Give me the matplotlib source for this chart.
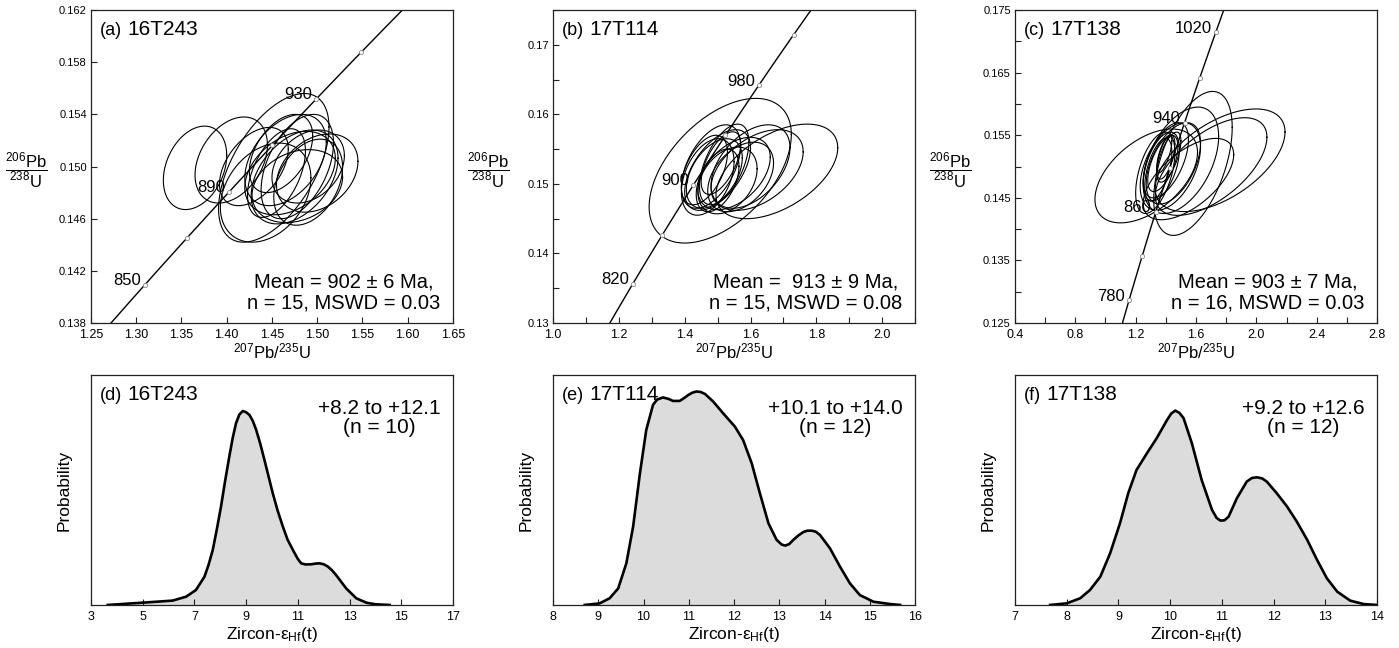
import numpy as np
import matplotlib
matplotlib.use("Agg")
import matplotlib.pyplot as plt
from matplotlib.ticker import MultipleLocator, FixedLocator, FormatStrFormatter, NullLocator

plt.rcParams['font.family'] = ['Liberation Sans', 'DejaVu Sans']
plt.rcParams['mathtext.fontset'] = 'custom'
plt.rcParams['mathtext.rm'] = 'Liberation Sans'
plt.rcParams['mathtext.it'] = 'Liberation Sans:italic'
plt.rcParams['mathtext.bf'] = 'Liberation Sans:bold'

# decay constants (per year)
L238 = 1.55125e-10
L235 = 9.8485e-10

samples = ["16T243", "17T114", "17T138"]

# --- U-Pb analyses: ellipse centre, half-widths (x, y) and error correlation ---
x_16T243 = [1.365, 1.405, 1.452, 1.443, 1.465, 1.470, 1.478, 1.500, 1.475, 1.460, 1.490, 1.430, 1.478, 1.455, 1.490]
y_16T243 = [0.1499, 0.1505, 0.1499, 0.1480, 0.1505, 0.1495, 0.1500, 0.1495, 0.1492, 0.1510, 0.1500, 0.1500, 0.1485, 0.1495, 0.1488]
wx_16T243 = [0.035, 0.040, 0.061, 0.050, 0.045, 0.050, 0.040, 0.045, 0.048, 0.035, 0.040, 0.038, 0.050, 0.032, 0.038]
wy_16T243 = [0.0032, 0.0033, 0.0057, 0.0038, 0.0035, 0.0032, 0.0040, 0.0030, 0.0036, 0.0030, 0.0028, 0.0030, 0.0028, 0.0034, 0.0033]
rho_16T243 = [0.3, 0.35, 0.55, 0.3, 0.4, 0.35, 0.45, 0.3, 0.4, 0.45, 0.3, 0.45, 0.25, 0.5, 0.35]

x_17T114 = [1.508, 1.680, 1.600, 1.480, 1.500, 1.490, 1.520, 1.470, 1.550, 1.510, 1.530, 1.460, 1.570, 1.500, 1.620]
y_17T114 = [0.1519, 0.1518, 0.1525, 0.1525, 0.1520, 0.1515, 0.1528, 0.1510, 0.1515, 0.1530, 0.1505, 0.1520, 0.1510, 0.1505, 0.1520]
wx_17T114 = [0.216, 0.185, 0.120, 0.090, 0.100, 0.085, 0.075, 0.080, 0.110, 0.060, 0.090, 0.070, 0.100, 0.065, 0.140]
wy_17T114 = [0.0104, 0.0068, 0.0060, 0.0060, 0.0058, 0.0050, 0.0058, 0.0055, 0.0052, 0.0045, 0.0048, 0.0050, 0.0050, 0.0045, 0.0058]
rho_17T114 = [0.5, 0.5, 0.45, 0.5, 0.55, 0.45, 0.55, 0.4, 0.45, 0.6, 0.35, 0.5, 0.4, 0.45, 0.45]

x_17T138 = [1.27, 1.76, 1.58, 1.70, 1.50, 1.40, 1.38, 1.42, 1.37, 1.45, 1.40, 1.35, 1.43, 1.39, 1.55, 1.33]
y_17T138 = [0.1485, 0.1510, 0.1505, 0.1500, 0.1510, 0.1510, 0.1505, 0.1515, 0.1500, 0.1505, 0.1515, 0.1495, 0.1500, 0.1520, 0.1480, 0.1490]
wx_17T138 = [0.34, 0.43, 0.26, 0.37, 0.25, 0.15, 0.10, 0.08, 0.12, 0.18, 0.06, 0.09, 0.20, 0.05, 0.30, 0.13]
wy_17T138 = [0.0075, 0.0082, 0.0115, 0.0078, 0.0085, 0.0060, 0.0045, 0.0040, 0.0055, 0.0065, 0.0035, 0.0050, 0.0070, 0.0030, 0.0065, 0.0065]
rho_17T138 = [0.5, 0.55, 0.5, 0.6, 0.45, 0.55, 0.6, 0.65, 0.5, 0.5, 0.6, 0.55, 0.45, 0.7, 0.6, 0.5]

# concordia age marks (Ma) and which of them carry a label
marks_16T243 = [850, 870, 890, 910, 930, 950, 970]
labels_16T243 = [850, 890, 930]
marks_17T114 = [780, 820, 860, 900, 940, 980, 1020]
labels_17T114 = [820, 900, 980]
marks_17T138 = [700, 780, 820, 860, 900, 940, 980, 1020]
labels_17T138 = [780, 860, 940, 1020]

mean_text = ["Mean = 902 \u00b1 6 Ma,\nn = 15, MSWD = 0.03",
             "Mean =  913 \u00b1 9 Ma,\nn = 15, MSWD = 0.08",
             "Mean = 903 \u00b1 7 Ma,\nn = 16, MSWD = 0.03"]

# --- zircon eHf(t) probability curves ---
hf_16T243_x = [3.65, 5.0, 6.16, 6.68, 7.06, 7.39, 7.55, 7.71, 7.87, 8.03, 8.19, 8.35, 8.48, 8.61, 8.74,
               8.87, 9.0, 9.13, 9.26, 9.39, 9.55, 9.71, 9.87, 10.03, 10.22, 10.42, 10.6, 10.81, 11.0, 11.13,
               11.3, 11.52, 11.7, 11.84, 12.0, 12.16, 12.32, 12.48, 12.87, 13.26, 13.65, 14.0, 14.55]
hf_16T243_y = [0.0, 0.010, 0.019, 0.036, 0.065, 0.123, 0.175, 0.239, 0.33, 0.428, 0.54, 0.645, 0.725, 0.79, 0.828,
               0.843, 0.838, 0.826, 0.80, 0.761, 0.70, 0.630, 0.558, 0.486, 0.41, 0.341, 0.285, 0.239, 0.200, 0.181,
               0.176, 0.177, 0.180, 0.181, 0.177, 0.167, 0.151, 0.130, 0.072, 0.029, 0.010, 0.003, 0.0]

hf_17T114_x = [8.70, 9.03, 9.25, 9.44, 9.62, 9.77, 9.92, 10.06, 10.21, 10.30, 10.43, 10.55, 10.65, 10.80, 10.90,
               10.99, 11.08, 11.17, 11.26, 11.36, 11.54, 11.76, 12.02, 12.20, 12.39, 12.57, 12.76, 12.94, 13.05,
               13.13, 13.22, 13.31, 13.42, 13.53, 13.62, 13.72, 13.81, 13.90, 14.12, 14.34, 14.56, 14.78, 15.08,
               15.45, 15.67]
hf_17T114_y = [0.0, 0.007, 0.029, 0.072, 0.181, 0.341, 0.572, 0.761, 0.870, 0.893, 0.902, 0.896, 0.887, 0.887, 0.900,
               0.913, 0.923, 0.928, 0.926, 0.917, 0.884, 0.833, 0.775, 0.717, 0.616, 0.486, 0.355, 0.283, 0.263,
               0.258, 0.265, 0.283, 0.302, 0.317, 0.323, 0.323, 0.318, 0.304, 0.246, 0.167, 0.094, 0.043, 0.014,
               0.004, 0.0]

hf_17T138_x = [7.68, 8.0, 8.26, 8.45, 8.65, 8.84, 9.03, 9.19, 9.35, 9.55, 9.74, 9.94, 10.02, 10.10, 10.18,
               10.26, 10.42, 10.61, 10.81, 10.90, 10.97, 11.05, 11.13, 11.29, 11.48, 11.58, 11.68, 11.78, 11.87,
               12.06, 12.26, 12.45, 12.65, 12.84, 13.03, 13.23, 13.48, 13.74, 14.0]
hf_17T138_y = [0.0, 0.007, 0.029, 0.065, 0.123, 0.225, 0.355, 0.486, 0.587, 0.659, 0.725, 0.804, 0.832, 0.845, 0.835,
               0.812, 0.703, 0.543, 0.413, 0.378, 0.367, 0.368, 0.384, 0.464, 0.536, 0.552, 0.555, 0.550, 0.536,
               0.486, 0.428, 0.362, 0.283, 0.196, 0.116, 0.058, 0.019, 0.004, 0.0]

hf_range = ["+8.2 to +12.1\n(n = 10)", "+10.1 to +14.0\n(n = 12)", "+9.2 to +12.6\n(n = 12)"]

upb = [
    (x_16T243, y_16T243, wx_16T243, wy_16T243, rho_16T243, marks_16T243, labels_16T243),
    (x_17T114, y_17T114, wx_17T114, wy_17T114, rho_17T114, marks_17T114, labels_17T114),
    (x_17T138, y_17T138, wx_17T138, wy_17T138, rho_17T138, marks_17T138, labels_17T138),
]
hf = [(hf_16T243_x, hf_16T243_y), (hf_17T114_x, hf_17T114_y), (hf_17T138_x, hf_17T138_y)]

# axis ranges and ticks
conc_xlim = [(1.25, 1.65), (1.0, 2.1), (0.4, 2.8)]
conc_ylim = [(0.138, 0.162), (0.13, 0.175), (0.125, 0.175)]
hf_xlim = [(3, 17), (8, 16), (7, 14)]
hf_xticks = [np.arange(3, 18, 2), np.arange(8, 17, 1), np.arange(7, 15, 1)]

fig = plt.figure(figsize=(13.99, 6.48), dpi=100)
lefts = [0.0650, 0.3953, 0.7255]
W = 0.2588
spine_c = "#222222"


def style_axes(ax):
    for s in ax.spines.values():
        s.set_linewidth(0.9)
        s.set_color(spine_c)
    ax.tick_params(which="both", direction="in", length=4, width=0.8, color=spine_c,
                   top=False, right=False)


def panel_label(ax, tag, name, x, y):
    t = ax.text(x, y, tag, transform=ax.transAxes, fontsize=13, ha="left", va="baseline")
    ax.annotate(name, xy=(1, 0), xycoords=t, xytext=(4, 0), textcoords="offset points",
                fontsize=15, ha="left", va="bottom")


t_ma = np.linspace(600, 1150, 600)
conc_x = np.exp(L235 * t_ma * 1e6) - 1
conc_y = np.exp(L238 * t_ma * 1e6) - 1
theta = np.linspace(0, 2 * np.pi, 240)

for i in range(3):
    ax = fig.add_axes([lefts[i], 0.5015, W, 0.483])
    style_axes(ax)
    cx, cy, wx, wy, rho, marks, labs = upb[i]

    ax.plot(conc_x, conc_y, color="black", lw=1.0, zorder=2)
    for a, b, ww, hh, r in zip(cx, cy, wx, wy, rho):
        ex = a + ww * np.cos(theta)
        ey = b + hh * (r * np.cos(theta) + np.sqrt(1 - r ** 2) * np.sin(theta))
        ax.plot(ex, ey, color="black", lw=0.8, zorder=3)

    mx = np.exp(L235 * np.array(marks) * 1e6) - 1
    my = np.exp(L238 * np.array(marks) * 1e6) - 1
    ax.plot(mx, my, "o", ms=3, mfc="white", mec="#888888", mew=0.6, zorder=4)
    for age in labs:
        lx = np.exp(L235 * age * 1e6) - 1
        ly = np.exp(L238 * age * 1e6) - 1
        ax.annotate(str(age), xy=(lx, ly), xytext=(-3, 3), textcoords="offset points",
                    ha="right", va="center", fontsize=12, zorder=5)

    ax.set_xlim(*conc_xlim[i])
    ax.set_ylim(*conc_ylim[i])
    if i == 0:
        ax.xaxis.set_major_locator(MultipleLocator(0.05))
        ax.yaxis.set_major_locator(FixedLocator(np.arange(0.138, 0.1621, 0.004)))
        ax.xaxis.set_major_formatter(FormatStrFormatter("%.2f"))
        ax.yaxis.set_major_formatter(FormatStrFormatter("%.3f"))
    elif i == 1:
        ax.xaxis.set_major_locator(MultipleLocator(0.2))
        ax.xaxis.set_minor_locator(MultipleLocator(0.1))
        ax.yaxis.set_major_locator(MultipleLocator(0.01))
        ax.yaxis.set_minor_locator(MultipleLocator(0.005))
        ax.xaxis.set_major_formatter(FormatStrFormatter("%.1f"))
        ax.yaxis.set_major_formatter(FormatStrFormatter("%.2f"))
    else:
        ax.xaxis.set_major_locator(MultipleLocator(0.4))
        ax.xaxis.set_minor_locator(MultipleLocator(0.2))
        ax.yaxis.set_major_locator(FixedLocator(np.arange(0.125, 0.1751, 0.01)))
        ax.yaxis.set_minor_locator(FixedLocator(np.arange(0.13, 0.1701, 0.01)))
        ax.xaxis.set_major_formatter(FormatStrFormatter("%.1f"))
        ax.yaxis.set_major_formatter(FormatStrFormatter("%.3f"))
    ax.tick_params(axis="x", labelsize=9, pad=4)
    ax.tick_params(axis="y", labelsize=8, pad=3)

    ax.set_xlabel(r"$^{207}\mathrm{Pb}/^{235}\mathrm{U}$", fontsize=12, labelpad=1)
    ax.text(-0.18, 0.49, r"$\dfrac{^{206}\mathrm{Pb}}{^{238}\mathrm{U}}$", transform=ax.transAxes,
            fontsize=12, ha="center", va="center")

    panel_label(ax, "(%s)" % "abc"[i], samples[i], 0.025, 0.92)
    ax.text(0.965, 0.035, mean_text[i], transform=ax.transAxes, fontsize=14.5,
            ha="right", va="bottom", multialignment="center", linespacing=1.1)

for i in range(3):
    ax = fig.add_axes([lefts[i], 0.0664, W, 0.355])
    style_axes(ax)
    xs, ys = hf[i]
    ax.fill_between(xs, ys, 0, color="#dcdcdc", lw=0, zorder=1)
    ax.plot(xs, ys, color="black", lw=1.9, zorder=2, solid_joinstyle="round")
    ax.set_xlim(*hf_xlim[i])
    ax.set_ylim(0, 1)
    ax.xaxis.set_major_locator(FixedLocator(hf_xticks[i]))
    ax.yaxis.set_major_locator(NullLocator())
    ax.tick_params(axis="x", labelsize=9, pad=4)
    ax.set_xlabel("Zircon-\u03b5$_{\\mathrm{Hf}}$(t)", fontsize=12.5, labelpad=2)
    ax.set_ylabel("Probability", fontsize=12.5, labelpad=14)
    panel_label(ax, "(%s)" % "def"[i], samples[i], 0.025, 0.89)
    ax.text(0.965, 0.895, hf_range[i], transform=ax.transAxes, fontsize=15,
            ha="right", va="top", multialignment="center", linespacing=1.0)

fig.savefig("out.png", dpi=100)
